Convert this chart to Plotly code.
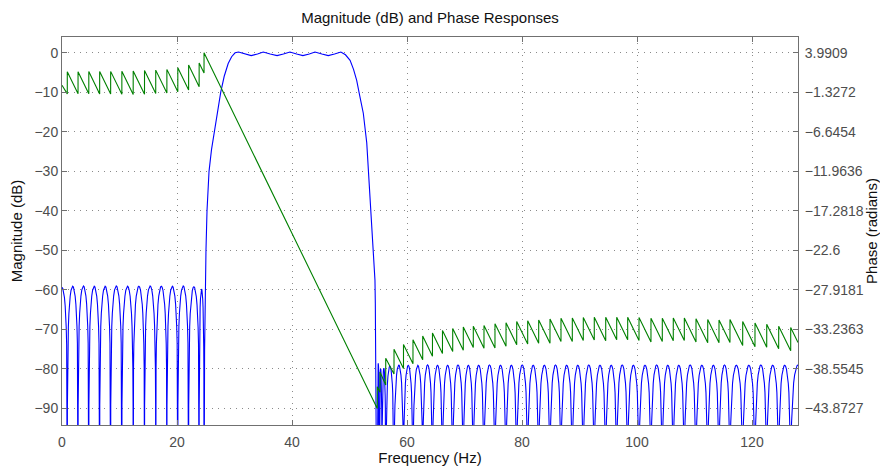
import plotly.graph_objects as go

# ---------------- values ----------------
# Magnitude response: null positions (Hz) of the stopband lobes and the lobe peak levels (dB)
stop1_nulls_hz = [-0.92, 0.92, 2.79, 4.66, 6.55, 8.46, 10.41, 12.38, 14.35, 16.30,
                  18.24, 20.14, 22.02, 23.85, 24.70]
stop1_peak_db = [-59.4, -59.1, -59.0, -59.1, -59.1, -59.0, -59.1, -59.1, -59.0, -59.1,
                 -59.1, -59.0, -59.2, -59.8]

stop2_nulls_hz = [54.83, 55.18, 55.65, 56.30, 57.74, 59.39, 61.04, 62.73, 64.43, 66.17,
                  67.95, 69.79, 71.53, 73.39, 75.30, 77.22, 79.08, 80.99, 82.90, 84.87,
                  86.78, 88.75, 90.66, 92.57, 94.56, 96.47, 98.38, 100.35, 102.43, 104.40,
                  106.31, 108.23, 110.26, 112.30, 114.26, 116.17, 118.38, 120.52, 122.56,
                  124.64, 126.73, 129.27]
stop2_peak_db = [-78.6, -80.0, -79.8, -79.3, -79.0, -79.1, -79.1, -79.0, -79.1, -79.1,
                 -79.0, -79.1, -79.1, -79.0, -79.1, -79.1, -79.0, -79.1, -79.1, -79.0,
                 -79.1, -79.1, -79.0, -79.1, -79.1, -79.0, -79.1, -79.1, -79.0, -79.1,
                 -79.1, -79.0, -79.1, -79.1, -79.0, -79.1, -79.1, -79.0, -79.1, -79.1,
                 -79.0]

# shape of one stopband lobe: fraction of lobe width -> level relative to the lobe peak (dB)
lobe_u = [0.0, 0.01, 0.03, 0.06, 0.10, 0.15, 0.20, 0.27, 0.35, 0.43, 0.50,
          0.57, 0.65, 0.73, 0.80, 0.85, 0.90, 0.94, 0.97, 0.99, 1.0]
lobe_rel_db = [-60.0, -30.1, -20.5, -14.5, -10.2, -6.9, -4.6, -2.5, -1.0, -0.2, 0.0,
               -0.2, -1.0, -2.5, -4.6, -6.9, -10.2, -14.5, -20.5, -30.1, -60.0]

# transition bands and passband (Hz, dB)
pass_hz = [24.70, 24.80, 24.87, 25.04, 25.22, 25.57, 26.00, 26.50, 27.00, 27.60, 28.20,
           28.90, 29.50, 30.10, 30.70, 31.80, 32.90, 34.00, 35.00, 36.20, 37.40, 38.50,
           39.65, 40.80, 41.90, 43.00, 44.00, 45.20, 46.30, 47.40, 48.50, 49.30, 50.10,
           50.70, 51.25, 51.80, 52.40, 53.00, 53.60, 54.10, 54.43, 54.49, 54.60, 54.83]
pass_db = [-119.0, -75.0, -59.6, -50.0, -40.0, -30.0, -24.5, -20.0, -15.5, -10.0, -6.0,
           -2.7, -1.0, 0.0, 0.2, -0.3, -0.7, -0.3, 0.2, -0.3, -0.7, -0.3,
           0.2, -0.3, -0.7, -0.3, 0.2, -0.3, -0.7, -0.3, 0.2, -0.5, -1.9,
           -4.2, -7.0, -11.0, -15.3, -22.8, -37.0, -50.0, -57.6, -63.4, -72.2, -119.0]

# Phase response (radians): value just before and just after each pi-jump
phase_start = (0.0, -0.370)
phase_jump_hz = [0.92, 2.79, 4.66, 6.55, 8.46, 10.41, 12.38, 14.35, 16.30, 18.24, 20.14,
                 22.02, 23.85, 24.70,
                 54.83, 55.30, 56.30, 57.74, 59.39, 61.04, 62.73, 64.43, 66.17, 67.95,
                 69.79, 71.53, 73.39, 75.30, 77.22, 79.08, 80.99, 82.90, 84.87, 86.78,
                 88.75, 90.66, 92.57, 94.56, 96.47, 98.38, 100.35, 102.43, 104.40, 106.31,
                 108.23, 110.26, 112.30, 114.26, 116.17, 118.38, 120.52, 122.56, 124.64,
                 126.73]
phase_before = [-1.54, -1.53, -1.52, -1.54, -1.56, -1.59, -1.61, -1.58, -1.50, -1.42, -1.26,
                -1.02, -0.57, 1.26,
                -43.87, -41.69, -40.73, -39.25, -38.50, -37.86, -37.33, -36.85, -36.48, -36.21,
                -36.05, -35.68, -35.79, -35.74, -35.52, -35.31, -35.20, -35.10, -35.10, -34.88,
                -34.88, -34.73, -34.67, -34.78, -34.62, -34.62, -34.73, -34.94, -34.88, -34.78,
                -34.73, -34.94, -35.04, -35.04, -34.99, -35.42, -35.58, -35.63, -35.84,
                -36.11]
phase_after = [1.44, 1.45, 1.46, 1.47, 1.49, 1.52, 1.55, 1.60, 1.66, 1.76, 1.97,
               2.34, 2.61, 3.99,
               -40.95, -38.98, -37.12, -35.90, -35.26, -34.62, -34.14, -33.71, -33.40, -33.13,
               -32.92, -32.81, -32.70, -32.49, -32.33, -32.17, -32.07, -31.96, -31.85, -31.75,
               -31.69, -31.64, -31.59, -31.59, -31.59, -31.59, -31.64, -31.75, -31.75, -31.69,
               -31.69, -31.80, -31.91, -31.96, -31.91, -32.17, -32.39, -32.54, -32.81,
               -32.97]
phase_end = (128.0, -34.99)

# ticks
freq_ticks = [0, 20, 40, 60, 80, 100, 120]
mag_ticks = [0, -10, -20, -30, -40, -50, -60, -70, -80, -90]
phase_tick_vals = [3.9909, -1.3272, -6.6454, -11.9636, -17.2818, -22.6, -27.9181,
                   -33.2363, -38.5545, -43.8727]
phase_tick_text = ["3.9909", "\u22121.3272", "\u22126.6454", "\u221211.9636", "\u221217.2818",
                   "\u221222.6", "\u221227.9181", "\u221233.2363", "\u221238.5545", "\u221243.8727"]

# ---------------- build polylines ----------------
def lobe_line(nulls, peaks):
    fx, my = [], []
    for a, b, p in zip(nulls[:-1], nulls[1:], peaks):
        for u, r in zip(lobe_u, lobe_rel_db):
            fx.append(a + u * (b - a))
            my.append(p + r)
    return fx, my

f1, m1 = lobe_line(stop1_nulls_hz, stop1_peak_db)
f2, m2 = lobe_line(stop2_nulls_hz, stop2_peak_db)
mag_f = f1 + pass_hz + f2
mag_db = m1 + pass_db + m2

ph_f = [phase_start[0]]
ph_v = [phase_start[1]]
for f, lo, hi in zip(phase_jump_hz, phase_before, phase_after):
    ph_f += [f, f]
    ph_v += [lo, hi]
ph_f.append(phase_end[0])
ph_v.append(phase_end[1])

FONT = "Liberation Sans, Arial, Helvetica, sans-serif"
AX = "#707070"
GRID = "#8a8a8a"
TICKFONT = dict(family=FONT, size=14, color="#4d4d4d")
TITLEFONT = dict(family=FONT, size=15, color="#111111")

fig = go.Figure()
fig.add_trace(go.Scatter(x=mag_f, y=mag_db, mode="lines",
                         line=dict(color="#0000ff", width=1.1), yaxis="y",
                         hoverinfo="skip"))
fig.add_trace(go.Scatter(x=ph_f, y=ph_v, mode="lines",
                         line=dict(color="#008000", width=1.1), yaxis="y2",
                         hoverinfo="skip"))

fig.update_layout(
    width=880, height=466,
    margin=dict(l=62, r=82, t=37, b=41, autoexpand=False),
    paper_bgcolor="white", plot_bgcolor="white",
    showlegend=False,
    font=dict(family=FONT, size=14, color="#222222"),
    title=dict(text="Magnitude (dB) and Phase Responses", x=0.5, xref="paper",
               xanchor="center", y=1 - 18 / 466, yref="container", yanchor="middle",
               font=TITLEFONT),
    xaxis=dict(range=[0, 128], tickvals=freq_ticks, ticks="inside", ticklen=5,
               tickcolor=AX, showline=True, linecolor=AX, linewidth=1, mirror="ticks",
               showgrid=True, gridcolor=GRID, gridwidth=1, griddash="1px,5px",
               zeroline=False, tickfont=TICKFONT, ticklabelstandoff=4, automargin=False,
               title=dict(text="Frequency (Hz)", standoff=10, font=TITLEFONT)),
    yaxis=dict(range=[-94.2, 4.0], tickvals=mag_ticks, ticks="inside", ticklen=5,
               tickcolor=AX, showline=True, linecolor=AX, linewidth=1, mirror=True,
               showgrid=True, gridcolor=GRID, gridwidth=1, griddash="1px,5px",
               zeroline=False, tickfont=TICKFONT, automargin=False,
               title=dict(text="Magnitude (dB)", standoff=8, font=TITLEFONT)),
    yaxis2=dict(range=[-46.106, 6.118], overlaying="y", side="right",
                tickvals=phase_tick_vals, ticktext=phase_tick_text,
                ticks="inside", ticklen=5, tickcolor=AX, showline=True, linecolor=AX,
                showgrid=False, zeroline=False, tickfont=TICKFONT, ticklabelstandoff=3,
                automargin=False,
                title=dict(text="Phase (radians)", standoff=8, font=TITLEFONT)),
)

fig.write_html("out.html")
